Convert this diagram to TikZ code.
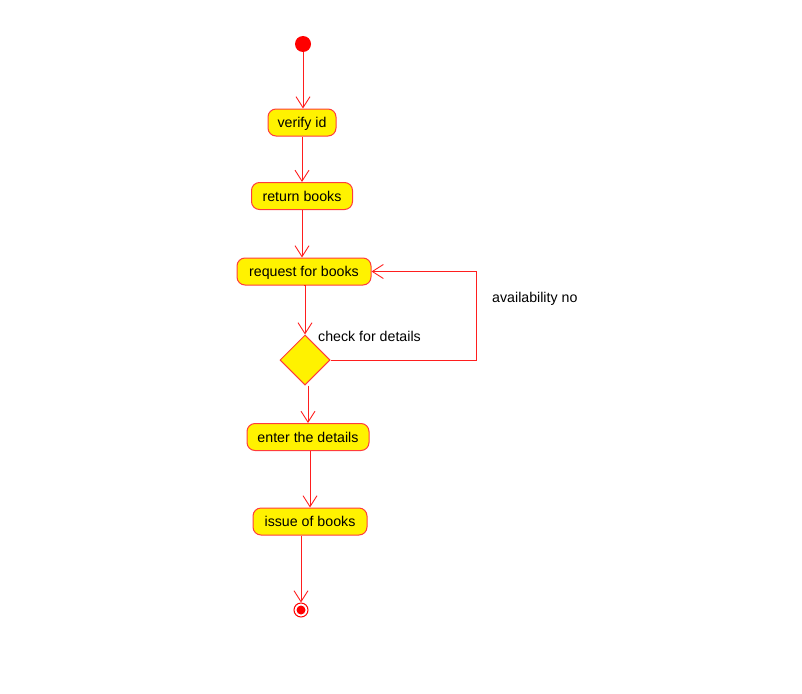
\documentclass[tikz,border=0pt]{standalone}
\usepackage{fontspec}
\setmainfont{Liberation Sans}
\usetikzlibrary{arrows.meta,shapes.geometric}
\definecolor{boxline}{RGB}{255,60,60}
\definecolor{flowline}{RGB}{255,30,30}
\begin{document}
\begin{tikzpicture}[x=1pt,y=-1pt,
  every node/.style={font=\fontsize{14.2}{16}\selectfont},
  activity/.style={draw=boxline,fill=yellow,line width=1pt,rounded corners=8pt,
    minimum height=27pt,inner xsep=9pt,inner ysep=0pt,text height=13pt,text depth=3pt},
  decision/.style={diamond,draw=boxline,fill=yellow,line width=1pt,aspect=1,
    minimum width=50pt,minimum height=50pt,inner sep=0pt},
  flow/.style={draw=flowline,line width=0.9pt,
    -{Straight Barb[length=11pt,width=14pt,line width=0.9pt]}},
  lbl/.style={anchor=west,inner sep=0pt}]
\useasboundingbox (0,0) rectangle (802,693);

% initial and final states
\node[circle,fill=red,minimum size=16pt,inner sep=0pt] (start) at (303,44) {};
\node[circle,draw=red,fill=white,line width=1pt,minimum size=14pt,inner sep=0pt] (stop) at (301,610) {};
\node[circle,fill=red,minimum size=9pt,inner sep=0pt] (stopdot) at (stop.center) {};

% activities
\node[activity,minimum width=68pt] (verify) at (302,122.5) {verify id};
\node[activity,minimum width=101pt] (ret) at (302,196) {return books};
\node[activity,minimum width=134pt] (req) at (304,271.5) {request for books};
\node[decision] (dia) at (305,360) {};
\node[activity,minimum width=122pt] (enter) at (308,437) {enter the details};
\node[activity,minimum width=114pt] (issue) at (310,521.5) {issue of books};

% labels
\node[lbl] (checklbl) at (318,336) {check for details};
\node[lbl] (availlbl) at (492,298.5) {availability no};

% flows
\draw[flow] (start.south) -- (start.south |- verify.north);
\draw[flow] (verify.south) -- (verify.south |- ret.north);
\draw[flow] (ret.south) -- (ret.south |- req.north);
\draw[flow] (req.south) -- (req.south -| dia.north) -- (dia.north);
\draw[flow] (dia.south -| enter.north) -- (enter.north);
\draw[flow] (enter.south -| issue.north) -- (issue.north);
\draw[flow] (issue.south -| stop.north) -- (stop.north);
\coordinate (loopc) at (476,360);
\draw[flow] (dia.east) -- (dia.east -| loopc) |- (req.east);
\end{tikzpicture}
\end{document}
